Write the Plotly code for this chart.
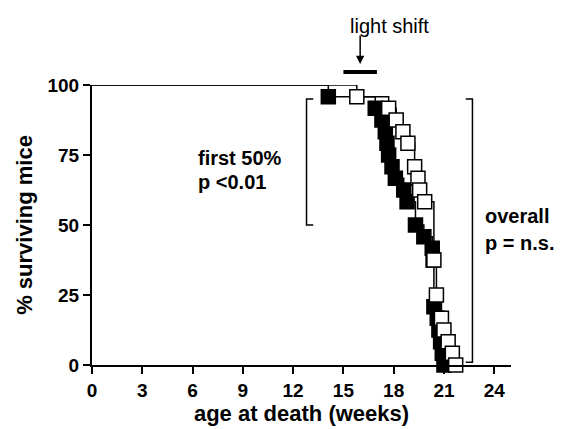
import plotly.graph_objects as go

# Kaplan-Meier steps (weeks, % surviving)
black_weeks = [0, 14.1, 16.9, 17.3, 17.5, 17.6, 17.7, 17.9, 18.1, 18.6, 18.8, 19.3, 19.8, 20.3, 20.35, 20.4, 20.6, 20.7, 20.8, 20.9, 21.0]
black_surv = [100, 95.8, 91.7, 87.5, 83.3, 79.2, 75.0, 70.8, 66.7, 62.5, 58.3, 50.0, 45.8, 41.7, 37.5, 20.8, 16.7, 12.5, 8.3, 4.2, 0]

white_weeks = [0, 15.8, 17.7, 18.15, 18.55, 18.85, 19.25, 19.45, 19.55, 19.85, 20.4, 20.55, 20.85, 21.0, 21.25, 21.5, 21.7]
white_surv = [100, 95.8, 91.7, 87.5, 83.3, 79.2, 70.8, 66.7, 62.5, 58.3, 37.5, 25.0, 16.7, 12.5, 8.3, 4.2, 0]

x_ticks = [0, 3, 6, 9, 12, 15, 18, 21, 24]
y_ticks = [0, 25, 50, 75, 100]

light_shift_weeks = [15, 17]
first_half_bracket = {"x": 12.8, "y0": 50, "y1": 95}
overall_bracket = {"x": 22.7, "y0": 1, "y1": 95}

FONT = "Liberation Sans, Arial, Helvetica, sans-serif"

fig = go.Figure()

for wk, sv, fill in [(black_weeks, black_surv, "black"), (white_weeks, white_surv, "white")]:
    fig.add_trace(go.Scatter(x=wk, y=sv, mode="lines", line=dict(color="black", width=1.5, shape="hv"),
                             cliponaxis=False, showlegend=False, hoverinfo="skip"))
    fig.add_trace(go.Scatter(x=wk[1:], y=sv[1:], mode="markers",
                             marker=dict(symbol="square", size=14, color=fill,
                                         line=dict(color="black", width=1.5)),
                             cliponaxis=False, showlegend=False))

# brackets
serif = 0.4
for b, direction in [(first_half_bracket, 1), (overall_bracket, -1)]:
    x = b["x"]
    fig.add_shape(type="path",
                  path=f"M {x + direction*serif},{b['y1']} L {x},{b['y1']} L {x},{b['y0']} L {x + direction*serif},{b['y0']}",
                  xref="x", yref="y", line=dict(color="black", width=1.5))

# light shift bar and arrow (above plot)
fig.add_shape(type="line", x0=light_shift_weeks[0], x1=light_shift_weeks[1], xref="x",
              y0=1.046, y1=1.046, yref="paper", line=dict(color="black", width=4))
mid = sum(light_shift_weeks) / 2
fig.add_annotation(x=mid, y=1.075, xref="x", yref="paper", ax=0, ay=-30, axref="pixel", ayref="pixel",
                   showarrow=True, arrowhead=2, arrowsize=1.1, arrowwidth=1.5, arrowcolor="black", text="")
fig.add_annotation(x=mid + 1.75, y=1.21, xref="x", yref="paper", yanchor="middle", text="light shift", showarrow=False,
                   font=dict(family=FONT, size=20, color="black"))

txt = dict(family=FONT, size=20, color="black", weight="bold")
fig.add_annotation(x=6.2, y=73.9, xref="x", yref="y", text="first 50%", showarrow=False, xanchor="left", font=txt)
fig.add_annotation(x=6.2, y=65.4, xref="x", yref="y", text="p &lt;0.01", showarrow=False, xanchor="left", font=txt)
fig.add_annotation(x=23.3, y=53.2, xref="x", yref="y", text="overall", showarrow=False, xanchor="left", font=txt)
fig.add_annotation(x=23.3, y=43.6, xref="x", yref="y", text="p = n.s.", showarrow=False, xanchor="left", font=txt)

axis_common = dict(showline=True, linecolor="black", linewidth=2, ticks="outside", ticklen=7, tickwidth=2,
                   tickcolor="black", showgrid=False, zeroline=False, automargin=False,
                   tickfont=dict(family=FONT, size=19, color="black", weight="bold"))

fig.update_xaxes(range=[0, 25], tickvals=x_ticks, ticktext=[str(v) for v in x_ticks],
                 title=dict(text="age at death (weeks)", font=dict(family=FONT, size=22, color="black", weight="bold"), standoff=5),
                 **axis_common)
fig.update_yaxes(range=[0, 100], tickvals=y_ticks, ticktext=[str(v) for v in y_ticks],
                 title=dict(text="% surviving mice", font=dict(family=FONT, size=22, color="black", weight="bold"), standoff=9),
                 **axis_common)

fig.update_layout(width=566, height=429, margin=dict(l=92, r=55, t=85, b=64),
                  plot_bgcolor="white", paper_bgcolor="white", font=dict(family=FONT))

fig.write_html("out.html")
